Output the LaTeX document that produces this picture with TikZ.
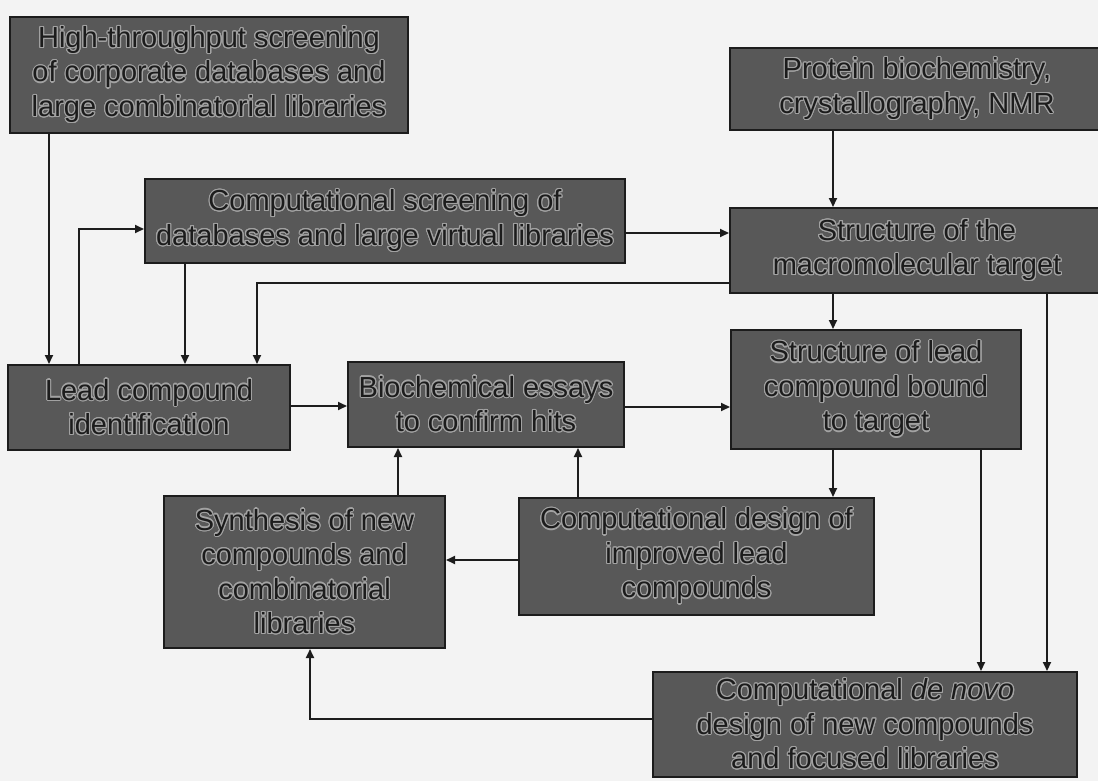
\documentclass[tikz,border=0pt]{standalone}
\usepackage{fontspec}
\setmainfont{Liberation Sans}
\usepackage[copies]{contour}
\contourlength{1.1pt}
\contournumber{20}
\usetikzlibrary{arrows.meta}
\definecolor{bg}{HTML}{F3F3F3}
\definecolor{boxfill}{HTML}{585858}
\definecolor{ink}{HTML}{1C1C1C}
\definecolor{halo}{HTML}{A2A2A2}
\newcommand\hx[1]{\contour{halo}{#1}}
\begin{document}
\begin{tikzpicture}[x=1pt,y=-1pt,
  box/.style={draw=ink, line width=2pt, fill=boxfill, text=ink, align=center,
    inner sep=0pt, font=\fontsize{29}{34.5}\selectfont},
  arr/.style={draw=ink, line width=2pt, -{Triangle[length=9pt,width=8pt]}}]
\useasboundingbox (0,0) rectangle (1098,781);
\clip (0,0) rectangle (1098,781);
\fill[bg] (0,0) rectangle (1098,781);

\node[box, minimum width=398pt, minimum height=116pt] (A) at (209,75)
  {\hx{High-throughput screening}\\\hx{of corporate databases and}\\\hx{large combinatorial libraries}};
\node[box, minimum width=374pt, minimum height=82pt] (B) at (917,89)
  {\hx{Protein biochemistry,}\\\hx{crystallography, NMR}};
\node[box, minimum width=480pt, minimum height=84pt] (C) at (385,221)
  {\hx{Computational screening of}\\\hx{databases and large virtual libraries}};
\node[box, minimum width=374pt, minimum height=85pt] (D) at (917,250.5)
  {\hx{Structure of the}\\\hx{macromolecular target}};
\node[box, minimum width=282pt, minimum height=85pt] (E) at (149,407.5)
  {\hx{Lead compound}\\\hx{identification}};
\node[box, minimum width=276pt, minimum height=85pt] (F) at (486,404.5)
  {\hx{Biochemical essays}\\\hx{to confirm hits}};
\node[box, minimum width=290pt, minimum height=119pt] (G) at (876,389.5)
  {\hx{Structure of lead}\\\hx{compound bound}\\\hx{to target}};
\node[box, minimum width=281pt, minimum height=152pt] (H) at (304.5,572)
  {\hx{Synthesis of new}\\\hx{compounds and}\\\hx{combinatorial}\\\hx{libraries}};
\node[box, minimum width=355pt, minimum height=117pt] (I) at (696.5,556.5)
  {\hx{Computational design of}\\\hx{improved lead}\\\hx{compounds}};
\node[box, minimum width=424pt, minimum height=105pt] (J) at (865,724.5)
  {\hx{Computational \textit{de novo}}\\\hx{design of new compounds}\\\hx{and focused libraries}};

% helper columns and rows
\coordinate (cA) at (49,0);
\coordinate (cUp) at (79,0);
\coordinate (cC) at (185,0);
\coordinate (cDl) at (257,0);
\coordinate (cB) at (833,0);
\coordinate (cDr) at (1047,0);
\coordinate (cG) at (981,0);
\coordinate (cH) at (398,0);
\coordinate (cI) at (578,0);
\coordinate (cJ) at (310,0);
\coordinate (rC) at (0,229);
\coordinate (rCD) at (0,233);
\coordinate (rDl) at (0,283);
\coordinate (rEF) at (0,406);
\coordinate (rFG) at (0,407);
\coordinate (rHI) at (0,560);
\coordinate (rJ) at (0,719);

\draw[arr] (A.south -| cA) -- (E.north -| cA);
\draw[arr] (E.north -| cUp) |- (C.west |- rC);
\draw[arr] (C.south -| cC) -- (E.north -| cC);
\draw[arr] (D.west |- rDl) -| (E.north -| cDl);
\draw[arr] (C.east |- rCD) -- (D.west |- rCD);
\draw[arr] (B.south -| cB) -- (D.north -| cB);
\draw[arr] (D.south -| cB) -- (G.north -| cB);
\draw[arr] (D.south -| cDr) -- (J.north -| cDr);
\draw[arr] (E.east |- rEF) -- (F.west |- rEF);
\draw[arr] (F.east |- rFG) -- (G.west |- rFG);
\draw[arr] (G.south -| cB) -- (I.north -| cB);
\draw[arr] (G.south -| cG) -- (J.north -| cG);
\draw[arr] (I.north -| cI) -- (F.south -| cI);
\draw[arr] (H.north -| cH) -- (F.south -| cH);
\draw[arr] (I.west |- rHI) -- (H.east |- rHI);
\draw[arr] (J.west |- rJ) -| (H.south -| cJ);
\end{tikzpicture}
\end{document}
